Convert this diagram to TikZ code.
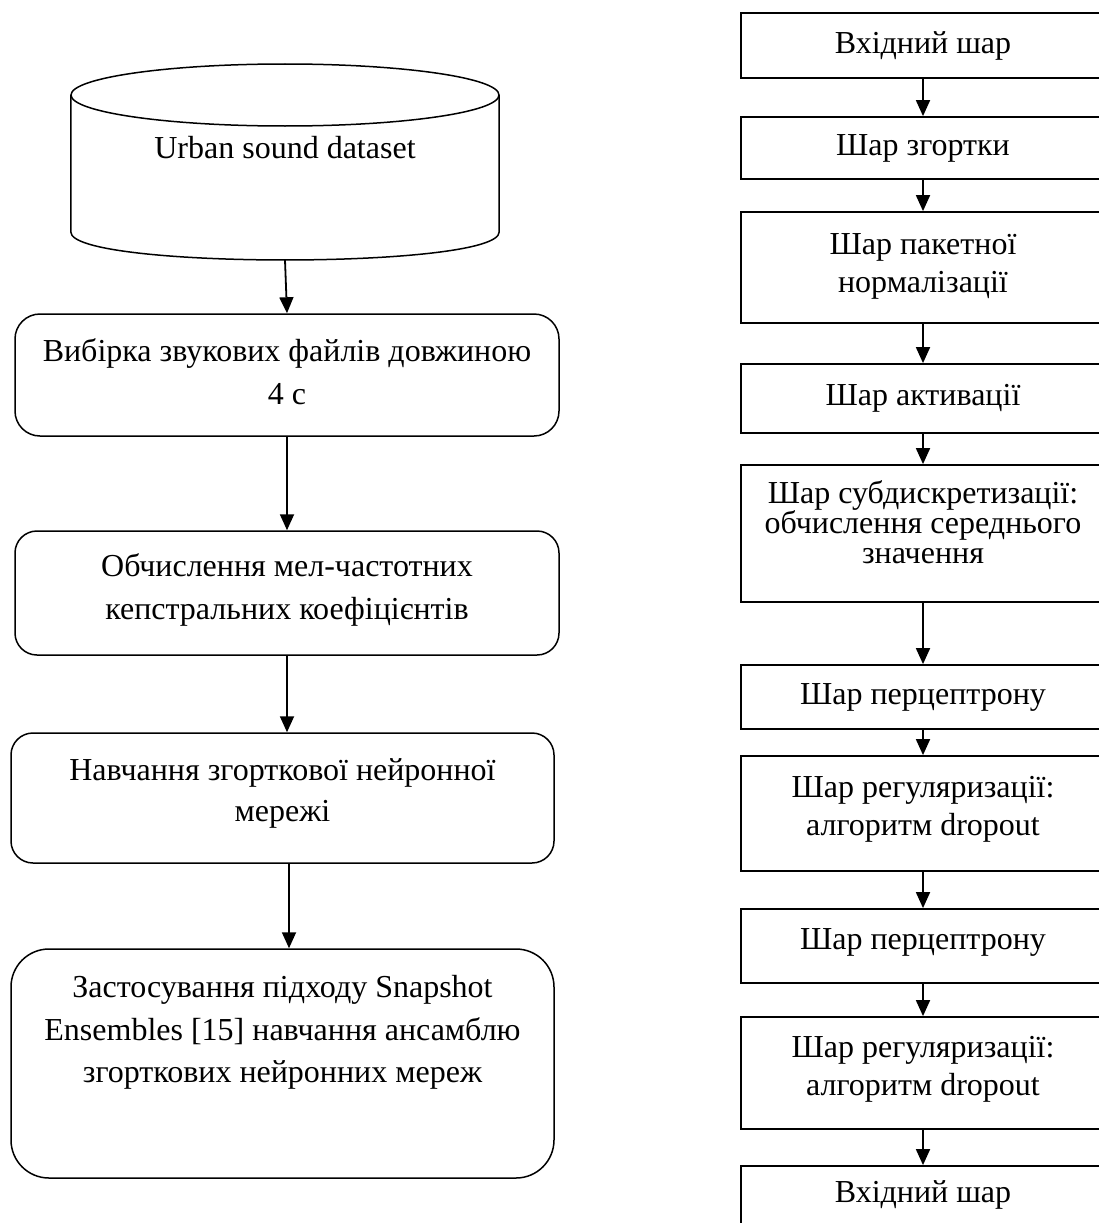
\documentclass[tikz,border=0pt]{standalone}
\usepackage{fontspec}
\setmainfont{Liberation Serif}
\usetikzlibrary{arrows.meta}
\begin{document}
\begin{tikzpicture}[x=1pt,y=-1pt,
  lbox/.style={draw, line width=1.5pt, inner sep=0pt},
  rbox/.style={draw, line width=1.8pt, inner sep=0pt, minimum width=364pt},
  ltxt/.style={align=center, font=\fontsize{32}{43}\selectfont, inner sep=0pt},
  rtxt/.style={align=center, font=\fontsize{32}{38}\selectfont, inner sep=0pt},
  arr/.style={-{Triangle[length=16pt,width=14pt]}, line width=1.8pt}]
\clip (0,0) rectangle (1099,1223);
% ---------- left column ----------
\node[minimum width=428pt, minimum height=197pt, inner sep=0pt] (cyl) at (285,161.5) {};
\draw[line width=1.5pt] (285,95) ellipse [x radius=214pt, y radius=31pt];
\draw[line width=1.5pt] (cyl.west |- 0,95) -- (cyl.west |- 0,232)
  .. controls (71,269.3) and (499,269.3) .. (cyl.east |- 0,232) -- (cyl.east |- 0,95);
\node[ltxt] (cylt) at (285,148) {Urban sound dataset};

\node[lbox, rounded corners=25pt, minimum width=544pt, minimum height=122pt] (b1) at (287,375) {};
\node[ltxt] (b1t) at (287,371.5) {Вибірка звукових файлів довжиною\\4 с};

\node[lbox, rounded corners=22pt, minimum width=544pt, minimum height=124pt] (b2) at (287,593) {};
\node[ltxt] (b2t) at (287,590) {Обчислення мел-частотних\\кепстральних коефіцієнтів};

\node[lbox, rounded corners=22pt, minimum width=543pt, minimum height=130pt] (b3) at (282.5,798) {};
\node[ltxt, font=\fontsize{32}{41}\selectfont] (b3t) at (282.5,793) {Навчання згорткової нейронної\\мережі};

\node[lbox, rounded corners=38pt, minimum width=543pt, minimum height=229pt] (b4) at (282.5,1063.5) {};
\node[ltxt, font=\fontsize{32}{42.5}\selectfont] (b4t) at (282.5,1032.5) {Застосування підходу Snapshot\\Ensembles [15] навчання ансамблю\\згорткових нейронних мереж};

\draw[arr] (cyl.south) -- (b1.north);
\draw[arr] (b1.south) -- (b2.north);
\draw[arr] (b2.south) -- (b2.south |- b3.north);
\draw[arr] ([xshift=6.5pt]b3.south) -- ([xshift=6.5pt]b3.south |- b4.north);

% ---------- right column ----------
\node[rbox, minimum height=65pt]  (r1)  at (923,45.5)  {};
\node[rtxt] (r1t) at (923,45.5) {Вхідний шар};
\node[rbox, minimum height=62pt]  (r2)  at (923,148)   {};
\node[rtxt] (r2t) at (923,148) {Шар згортки};
\node[rbox, minimum height=111pt] (r3)  at (923,267.5) {};
\node[rtxt] (r3t) at (923,266) {Шар пакетної\\нормалізації};
\node[rbox, minimum height=69pt]  (r4)  at (923,398.5) {};
\node[rtxt] (r4t) at (923,398) {Шар активації};
\node[rbox, minimum height=137pt] (r5)  at (923,533.5) {};
\node[rtxt, font=\fontsize{32}{30}\selectfont] (r5t) at (923,522) {Шар субдискретизації:\\обчислення середнього\\значення};
\node[rbox, minimum height=64pt]  (r6)  at (923,697)   {};
\node[rtxt] (r6t) at (923,697) {Шар перцептрону};
\node[rbox, minimum height=115pt] (r7)  at (923,813.5) {};
\node[rtxt] (r7t) at (923,809) {Шар регуляризації:\\алгоритм dropout};
\node[rbox, minimum height=74pt]  (r8)  at (923,946)   {};
\node[rtxt] (r8t) at (923,942) {Шар перцептрону};
\node[rbox, minimum height=112pt] (r9)  at (923,1073)  {};
\node[rtxt] (r9t) at (923,1069) {Шар регуляризації:\\алгоритм dropout};
\node[rbox, minimum height=64pt]  (r10) at (923,1198)  {};
\node[rtxt] (r10t) at (923,1195) {Вхідний шар};

\foreach \a/\b in {r1/r2,r2/r3,r3/r4,r4/r5,r5/r6,r6/r7,r7/r8,r8/r9,r9/r10}
  \draw[arr] (\a.south) -- (\b.north);
\end{tikzpicture}
\end{document}
